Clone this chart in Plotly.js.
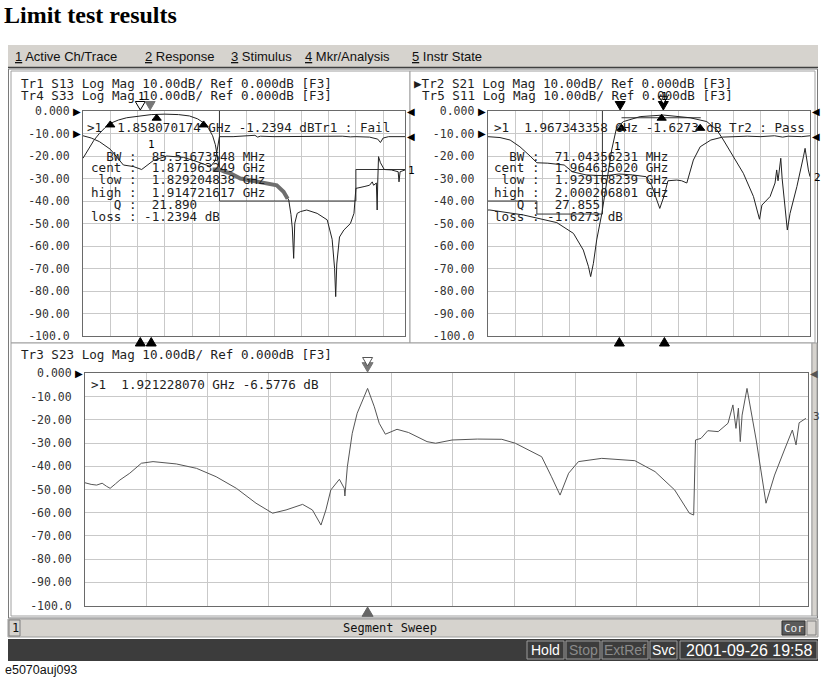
<!DOCTYPE html>
<html><head><meta charset="utf-8">
<script src="https://cdn.plot.ly/plotly-3.0.1.min.js"></script>
<style>html,body{margin:0;padding:0;background:#fff;overflow:hidden}#chart{width:824px;height:678px}</style>
</head><body><div id="chart"></div>
<script>
// ---------- data (x in graticule divisions, y in dB) ----------
const yTickVals = [0,-10,-20,-30,-40,-50,-60,-70,-80,-90,-100];
const yTickText = ["0.000","-10.00","-20.00","-30.00","-40.00","-50.00","-60.00","-70.00","-80.00","-90.00","-100.0"];

// Top-left: Tr1 S13 (transmission) and Tr4 S33 (reflection)
const tr1X = [0,0.2,0.4,0.6,0.8,1.0,1.3,1.6,2.0,2.5,3.0,3.5,3.9,4.2,4.45,4.6,4.75,4.85,4.92,5.0,5.2,5.4,5.77,6.1,6.6,7.1,7.35,7.54,7.62,7.67,7.72,7.76,7.85,7.97,8.2,8.58,8.95,9.13,9.22,9.26,9.3,9.4,9.56,9.8,9.93,9.97,10.0,10.3,10.5,10.6,10.65,10.75,10.78,10.8,10.83,10.9,11.04,11.3,11.55,11.58,11.62,11.8];
const tr1Y = [-21,-17,-13,-10,-7.5,-5.5,-4,-3,-2.3,-1.6,-1.4,-1.6,-2.2,-3.5,-5.5,-7.7,-11,-15,-20,-26,-27,-27.7,-30,-30.7,-32,-33,-35.9,-39.6,-46,-52,-65.5,-50,-45.5,-44.7,-44,-45.5,-48.4,-57,-70,-82.5,-68,-56,-52.9,-50,-45.5,-40,-34.4,-33.6,-33,-31.5,-33,-32,-44,-32,-20.3,-23,-26,-26.2,-27,-31.5,-27,-26.2];
const tr1FailX = [4.75,5.0,5.2,5.4,5.77,6.1,6.6,7.1,7.35,7.5];
const tr1FailY = [-26,-26,-27,-27.7,-30,-30.7,-32,-33,-35.9,-39];
const tr4X = [0,0.3,0.6,1.0,1.48,1.85,2.15,2.35,2.58,3.07,3.68,4.18,4.67,4.85,4.95,5.0,5.5,6.0,6.3,6.4,6.5,7.0,8.0,9.0,9.5,9.8,10.0,10.5,10.8,10.9,11.0,11.2,11.5,11.8];
const tr4Y = [-11,-12,-13.6,-17,-24,-24.7,-26,-24,-22,-20,-20.6,-22.5,-24.7,-22,-16,-11.4,-11.4,-11.2,-10.8,-11.6,-11.2,-11.4,-11.3,-11.4,-11.2,-11.5,-11.4,-11.6,-12.5,-14,-12,-11.4,-11.3,-11.4];
const limTLX = [5,5,10,10,11.8];
const limTLY = [0,-40,-40,-26,-26];

// Top-right: Tr2 S21 (transmission) and Tr5 S11 (reflection)
const tr2X = [0,0.08,1.3,2.53,3.14,3.5,3.69,3.77,3.87,3.99,4.18,4.36,4.54,4.7,4.75,4.97,5.58,6.43,7.41,8.02,8.39,8.63,9.0,9.36,9.73,9.95,10.04,10.34,10.52,10.58,10.63,10.73,10.78,10.97,11.07,11.32,11.56,11.62,11.74,11.8];
const tr2Y = [-44,-44,-46.2,-49.6,-54.4,-61.8,-69.2,-73.6,-67.7,-57.3,-45.5,-30.7,-17.3,-8.4,-7,-4.7,-2.5,-1.8,-3,-4.7,-8.4,-12.9,-20.3,-27.7,-38,-48.1,-41.8,-38,-32,-26.2,-31,-21,-30,-52.9,-45.5,-33.6,-20.3,-16.6,-26.2,-29.2];
const tr5X = [0,0.45,0.82,1.18,1.55,1.8,2.2,2.8,3.1,3.6,4.3,4.8,5.3,5.8,6.0,6.15,6.3,6.45,6.6,6.92,7.1,7.29,7.53,7.78,8.17,8.6,9.5,10.0,10.5,10.8,11.0,11.5,11.8];
const tr5Y = [-11.4,-11.8,-12.9,-15.9,-20,-23,-23.2,-24,-27,-28.4,-28.8,-28,-28.4,-29.2,-33,-38,-43.3,-38,-31,-30.7,-31,-32,-21.8,-15.9,-12.9,-11.6,-11.2,-11.4,-11,-11.6,-11.2,-11.4,-11];
const limTRX = [0,1.8,1.8,4.2,4.2,null,4.9,7.8];
const limTRY = [-40,-40,-45.8,-45.8,0,null,-3,-3];

// Bottom: Tr3 S23
const tr3X = [0,0.1,0.19,0.28,0.35,0.41,0.5,0.57,0.73,0.92,1.11,1.49,1.82,2.14,2.47,2.79,3.06,3.28,3.55,3.71,3.85,3.93,4.01,4.15,4.23,4.24,4.28,4.36,4.44,4.61,4.72,4.8,4.9,5.09,5.28,5.58,5.72,5.99,6.4,6.8,7.02,7.45,7.61,7.75,7.89,8.05,8.43,8.97,9.3,9.62,9.86,9.93,9.96,10.05,10.16,10.33,10.49,10.57,10.62,10.66,10.69,10.72,10.8,10.95,11.11,11.25,11.41,11.54,11.6,11.65,11.76];
const tr3Y = [-47.1,-47.8,-48.1,-47.3,-48.6,-49.5,-47.5,-45.9,-43,-38.7,-38,-39,-40.9,-44.5,-49.5,-55.9,-60.2,-58.8,-56.4,-58.8,-65.3,-58.8,-50.2,-45.6,-49.5,-52.8,-40.2,-25.8,-17.2,-6.5,-14.4,-21.5,-26.2,-24.1,-25.5,-29.4,-30.1,-28.7,-28.3,-28.4,-30.1,-35.9,-44.5,-52.4,-43,-38,-36.6,-37.6,-42.3,-50.2,-60.2,-61,-28.7,-28,-24.7,-25.1,-21.5,-13.6,-23.7,-15,-29.4,-18,-6.5,-28.7,-55.9,-43.8,-33,-24.4,-30.8,-21.3,-19.4];

// Markers (stimulus position in divisions, response in dB)
const mkArcTLX = [1.0,2.7,4.42], mkArcTLY = [-6.2,-3.2,-6.2];
const mkArcTRX = [4.9,6.37,7.78], mkArcTRY = [-7.7,-3.2,-7.7];
const mkTopTLX = [2.1,2.46], mkBotTLX = [2.1,2.5];
const mkTopTRX = [4.85,6.43], mkBotTRX = [4.82,6.47];
const mkTopBX = [4.61], mkBotBX = [4.61];
const refLeftTL = [0,-10], refRightTL = [0,-11.4];
const refLeftTR = [0,-10], refRightTR = [0,-11.4];
const refLeftB = [0], refRightB = [0];

// Readouts
const hdrTL = ["Tr1 S13 Log Mag 10.00dB/ Ref 0.000dB [F3]","Tr4 S33 Log Mag 10.00dB/ Ref 0.000dB [F3]"];
const hdrTR = ["Tr2 S21 Log Mag 10.00dB/ Ref 0.000dB [F3]","Tr5 S11 Log Mag 10.00dB/ Ref 0.000dB [F3]"];
const hdrB = "Tr3 S23 Log Mag 10.00dB/ Ref 0.000dB [F3]";
const readTL = ">1  1.858070174 GHz -1.2394 dBTr1 : Fail";
const readTR = ">1  1.967343358 GHz -1.6273 dB Tr2 : Pass";
const readB = ">1  1.921228070 GHz -6.5776 dB";
const statTL = ["  BW :  85.51673548 MHz","cent :  1.871963249 GHz"," low :  1.829204838 GHz","high :  1.914721617 GHz","   Q :  21.890","loss : -1.2394 dB"];
const statTR = ["  BW :  71.04356231 MHz","cent :  1.964635020 GHz"," low :  1.929168239 GHz","high :  2.000206801 GHz","   Q :  27.855","loss : -1.6273 dB"];
const menuItems = ["<u>1</u> Active Ch/Trace","<u>2</u> Response","<u>3</u> Stimulus","<u>4</u> Mkr/Analysis","<u>5</u> Instr State"];
const statusItems = ["Hold","Stop","ExtRef","Svc","2001-09-26 19:58"];

// ---------- layout helpers ----------
const W=824,H=678;
const fx = x=>x/W, fy = y=>1-y/H;
const MONO = "DejaVu Sans Mono, monospace";
const SANS = "Liberation Sans Narrow, Liberation Sans, Arial, sans-serif";
const SANSW = "Liberation Sans, Arial, sans-serif";
const nb = s=>s.replace(/ /g,"\u00a0");

const PX = {TL:[83,405,111,336], TR:[487.7,810,111,336], B:[85,808.3,373.3,605.7]};
const XMAX = 11.8;

function xax(p,anchor){return {domain:[fx(p[0]),fx(p[1])],anchor:anchor,range:[0,XMAX],tick0:0,dtick:1,showticklabels:false,ticks:"",
  showgrid:true,gridcolor:"#c9c9c9",gridwidth:1,zeroline:false,showline:true,mirror:true,linecolor:"#6a6a6a",linewidth:1,fixedrange:true};}
function yax(p,anchor){return {domain:[fy(p[3]),fy(p[2])],anchor:anchor,range:[-100,0],tickmode:"array",tickvals:yTickVals,ticktext:yTickText,
  ticks:"outside",ticklen:10,tickcolor:"rgba(0,0,0,0)",tickfont:{family:MONO,size:11.5,color:"#333"},
  showgrid:true,gridcolor:"#c9c9c9",gridwidth:1,zeroline:false,showline:true,mirror:true,linecolor:"#6a6a6a",linewidth:1,fixedrange:true};}

const traces = [];
function line(x,y,xa,ya,color,width){traces.push({type:"scatter",mode:"lines",x:x,y:y,xaxis:xa,yaxis:ya,line:{color:color,width:width},hoverinfo:"skip",connectgaps:false});}
function marks(x,y,xa,ya,symbol,color,size){traces.push({type:"scatter",mode:"markers",x:x,y:y,xaxis:xa,yaxis:ya,
  marker:{symbol:symbol,color:color,size:size,line:{color:color,width:1}},hoverinfo:"skip"});}

// top-left
line(limTLX,limTLY,"x","y","#333",1);
line(tr4X,tr4Y,"x","y","#222",1);
line(tr1X,tr1Y,"x","y","#222",1);
line(tr1FailX,tr1FailY,"x","y","#6e6e6e",4);
marks(mkArcTLX,mkArcTLY,"x","y","triangle-up","#000",8);
// top-right
line(limTRX,limTRY,"x2","y2","#333",1);
line(tr5X,tr5Y,"x2","y2","#222",1);
line(tr2X,tr2Y,"x2","y2","#222",1);
marks(mkArcTRX,mkArcTRY,"x2","y2","triangle-up","#000",8);
// bottom
line(tr3X,tr3Y,"x3","y3","#555",1);

// ---------- shapes ----------
const shapes = [];
function rect(x0,y0,x1,y1,fill,lc,lw){shapes.push({type:"rect",xref:"paper",yref:"paper",x0:fx(x0),x1:fx(x1),y0:fy(y1),y1:fy(y0),
  fillcolor:fill,line:{color:lc||"rgba(0,0,0,0)",width:lw===undefined?1:lw},layer:"below"});}
function hline(x0,x1,y,c,w){shapes.push({type:"line",xref:"paper",yref:"paper",x0:fx(x0),x1:fx(x1),y0:fy(y),y1:fy(y),line:{color:c,width:w||1},layer:"below"});}

rect(8,45,818,67,"#d6d3ce","#d6d3ce",0);
hline(8,818,67.5,"#404040",1.5);
rect(8.5,69,817.5,618,"#ffffff","#7a7a7a",1);
rect(11,71,410,343,"#ffffff","#a0a0a0",1);
rect(410,71,815,343,"#ffffff","#a0a0a0",1);
rect(11,343,812,616,"#ffffff","#a0a0a0",1);
rect(812,343,817,616,"#d6d3ce","#a0a0a0",1);
// status bar
rect(8,619,818,637,"#d6d3ce","#9a9a9a",1);
rect(9,620,20,636,"#d6d3ce","#808080",1);
rect(782,621,805,635,"#5a5a5a","#303030",1);
rect(807,621,816,635,"#d6d3ce","#808080",1);
// dark bar
rect(8,639,818,661,"#3c3c3c","#3c3c3c",0);
const sbBox = [[527,564],[566,600],[602,648],[650,677],[680,817]];
sbBox.forEach(b=>rect(b[0],641,b[1],659,"#3c3c3c","#9a9a9a",1));

// marker triangles above/below the graticule: x on the subplot's stimulus axis, y in page position
function tri(xref,p,xv,tipPx,dir,size,fill,lc){
  const hw = (size/2)/((p[1]-p[0])/XMAX);
  const base = dir==="down" ? tipPx-size*0.85 : tipPx+size*0.85;
  shapes.push({type:"path",xref:xref,yref:"paper",
    path:"M"+(xv-hw)+","+fy(base)+" L"+(xv+hw)+","+fy(base)+" L"+xv+","+fy(tipPx)+" Z",
    fillcolor:fill,line:{color:lc,width:1},layer:"above"});
}
tri("x",PX.TL,mkTopTLX[0],110,"down",10,"#ffffff","#000");
tri("x",PX.TL,mkTopTLX[1],110,"down",10,"#777","#777");
mkBotTLX.forEach(v=>tri("x",PX.TL,v,337.5,"up",10,"#000","#000"));
tri("x2",PX.TR,mkTopTRX[0],110,"down",10,"#000","#000");
tri("x2",PX.TR,mkTopTRX[1],110,"down",10,"#000","#000");
tri("x2",PX.TR,mkTopTRX[1],104,"down",9,"#ffffff","#000");
mkBotTRX.forEach(v=>tri("x2",PX.TR,v,337.5,"up",10,"#000","#000"));
tri("x3",PX.B,mkTopBX[0],372,"down",11,"#777","#777");
tri("x3",PX.B,mkTopBX[0],366,"down",10,"#ffffff","#555");
tri("x3",PX.B,mkBotBX[0],607,"up",11,"#666","#666");

// ---------- annotations ----------
const ann = [];
function txt(t,x,y,o){ann.push(Object.assign({xref:"paper",yref:"paper",x:fx(x),y:fy(y),text:t,showarrow:false,xanchor:"left",yanchor:"middle",
  borderpad:0,font:{family:MONO,size:12.6,color:"#1e1e1e"}},o||{}));}
// reference-level arrows: y on the subplot's dB axis
function arrow(ya,xPx,v,glyph,anchor,color){ann.push({xref:"paper",yref:ya,x:fx(xPx),y:v,text:glyph,showarrow:false,xanchor:anchor,yanchor:"middle",
  borderpad:0,font:{family:"DejaVu Sans, sans-serif",size:10,color:color||"#000"}});}
refLeftTL.forEach(v=>arrow("y",PX.TL[0]-1,v,"\u25B6","right"));
refRightTL.forEach(v=>arrow("y",PX.TL[1]+1,v,"\u25C0","left"));
refLeftTR.forEach(v=>arrow("y2",PX.TR[0]-1,v,"\u25B6","right"));
refRightTR.forEach(v=>arrow("y2",PX.TR[1]+1,v,"\u25C0","left"));
refLeftB.forEach(v=>arrow("y3",PX.B[0]-1,v,"\u25B6","right"));
refRightB.forEach(v=>arrow("y3",PX.B[1]+1,v,"\u25C0","left","#555"));

txt("<b>Limit test results</b>",3,15,{font:{family:"Liberation Serif, Times New Roman, serif",size:24,color:"#000"}});
const menuX=[14,144,230,304,411];
menuItems.forEach((m,i)=>txt(m,menuX[i],56,{font:{family:SANS,size:13,color:"#111"}}));

txt(nb(hdrTL[0]),20,83); txt(nb(hdrTL[1]),20,95);
txt(nb("\u25B6"+hdrTR[0]),413,83); txt(nb(hdrTR[1]),421,95);
txt(nb(hdrB),20,354);

txt(nb(readTL),86,127); txt(nb(readTR),493,127); txt(nb(readB),90,385);
const rowY=[156,168,180,192,204,216];
statTL.forEach((s,i)=>txt(nb(s),90,rowY[i]));
statTR.forEach((s,i)=>txt(nb(s),493,rowY[i]));

const small = {font:{family:MONO,size:11,color:"#000"}};
txt("1",137,97,small);
txt("1",660,97,small);
txt("1",147,145,small);
txt("1",613,146,small);
txt("1",407,170,small);
txt("2",813,177,small);
txt("3",812,417,{font:{family:MONO,size:11,color:"#444"}});

txt("1",11,628,{font:{family:MONO,size:12,color:"#111"}});
txt("Segment Sweep",390,628,{xanchor:"center",font:{family:MONO,size:12,color:"#111"}});
txt("Cor",793.5,628,{xanchor:"center",font:{family:MONO,size:11,color:"#f0f0f0"}});
const sbCol=["#ffffff","#8a8a8a","#8a8a8a","#ffffff","#ffffff"];
const sbSize=[14,14,14,14,16];
statusItems.forEach((s,i)=>txt(s,(sbBox[i][0]+sbBox[i][1])/2,650,{xanchor:"center",font:{family:SANSW,size:sbSize[i],color:sbCol[i]}}));
txt("e5070auj093",4,670,{font:{family:SANS,size:12.5,color:"#111"}});

const layout = {width:W,height:H,margin:{l:0,r:0,t:0,b:0},paper_bgcolor:"#ffffff",plot_bgcolor:"rgba(0,0,0,0)",showlegend:false,
  xaxis:xax(PX.TL,"y"), yaxis:yax(PX.TL,"x"),
  xaxis2:xax(PX.TR,"y2"), yaxis2:yax(PX.TR,"x2"),
  xaxis3:xax(PX.B,"y3"), yaxis3:yax(PX.B,"x3"),
  shapes:shapes, annotations:ann, hovermode:false};
Plotly.newPlot("chart",traces,layout,{staticPlot:true,displayModeBar:false});
</script></body></html>
